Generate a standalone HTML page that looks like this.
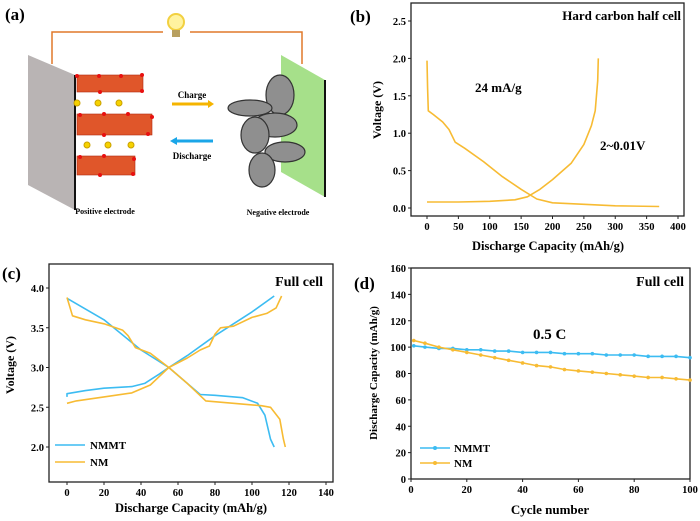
<!DOCTYPE html>
<html><head><meta charset="utf-8"><style>
html,body{margin:0;padding:0;background:#fff;}
svg{display:block;font-family:"Liberation Serif",serif;font-weight:bold;}
</style></head><body>
<svg id="fig" width="700" height="521" viewBox="0 0 700 521">
<!-- Panel a -->
<g>
<text x="5" y="20" font-size="17">(a)</text>
<polyline points="52,64 52,32 163,32" fill="none" stroke="#e0782a" stroke-width="1.5"/>
<polyline points="190,32 302,32 302,64" fill="none" stroke="#e0782a" stroke-width="1.5"/>
<g>
<circle cx="176" cy="22" r="8" fill="#fff3a0" stroke="#f2d040" stroke-width="2"/>
<rect x="172" y="30" width="8" height="7" fill="#b8a060"/>
</g>
<polygon points="28,55 75,75 75,210 28,185" fill="#b9b4b4"/>
<line x1="75" y1="75" x2="75" y2="210" stroke="#111" stroke-width="2"/>
<g fill="#e0562a" stroke="#b02a10" stroke-width="0.6">
<rect x="77" y="75" width="66" height="17"/>
<rect x="77" y="114" width="75" height="21"/>
<rect x="77" y="156" width="58" height="19"/>
</g>
<g fill="#e81010">
<circle cx="77" cy="76" r="2"/><circle cx="99" cy="76" r="2"/><circle cx="121" cy="76" r="2"/><circle cx="142" cy="75" r="2"/><circle cx="142" cy="91" r="2"/><circle cx="100" cy="92" r="2"/>
<circle cx="80" cy="115" r="2"/><circle cx="104" cy="114" r="2"/><circle cx="128" cy="114" r="2"/><circle cx="152" cy="117" r="2"/><circle cx="148" cy="134" r="2"/><circle cx="104" cy="135" r="2"/>
<circle cx="80" cy="157" r="2"/><circle cx="104" cy="156" r="2"/><circle cx="134" cy="159" r="2"/><circle cx="133" cy="174" r="2"/><circle cx="100" cy="175" r="2"/>
</g>
<g fill="#f6d200" stroke="#c9a000" stroke-width="1">
<circle cx="77" cy="103" r="3"/><circle cx="98" cy="103" r="3"/><circle cx="119" cy="103" r="3"/>
<circle cx="87" cy="145" r="3"/><circle cx="108" cy="145" r="3"/><circle cx="131" cy="145" r="3"/>
</g>
<text x="192" y="98" font-size="9" text-anchor="middle">Charge</text>
<line x1="172" y1="104" x2="210" y2="104" stroke="#f5b400" stroke-width="3"/>
<polygon points="208,100 214,104 208,108" fill="#f5b400"/>
<line x1="176" y1="141" x2="213" y2="141" stroke="#1aa6e8" stroke-width="3"/>
<polygon points="177,137 170,141 177,145" fill="#1aa6e8"/>
<text x="192" y="159" font-size="9" text-anchor="middle">Discharge</text>
<polygon points="281,55 325,80 325,197 281,172" fill="#a6e08a"/>
<line x1="325" y1="80" x2="325" y2="197" stroke="#111" stroke-width="2"/>
<g fill="#8f8f8f" stroke="#333" stroke-width="1.2">
<ellipse cx="280" cy="95" rx="14" ry="20"/>
<ellipse cx="250" cy="108" rx="22" ry="8"/>
<ellipse cx="275" cy="125" rx="22" ry="12"/>
<ellipse cx="255" cy="135" rx="14" ry="18"/>
<ellipse cx="285" cy="152" rx="20" ry="10"/>
<ellipse cx="262" cy="170" rx="13" ry="17"/>
</g>
<text x="105" y="214" font-size="8" text-anchor="middle">Positive electrode</text>
<text x="278" y="215" font-size="8" text-anchor="middle">Negative electrode</text>
</g>
<g id="charts"></g>
</svg>
<script>
// Panel b data
const bDisX=[0,1,2,10,25,35,45,60,90,120,150,175,200,250,300,370];
const bDisY=[1.97,1.6,1.3,1.25,1.15,1.05,0.88,0.8,0.62,0.42,0.25,0.12,0.07,0.05,0.03,0.02];
const bChX=[0,50,100,140,160,180,200,230,250,262,268,272,273];
const bChY=[0.08,0.08,0.09,0.11,0.15,0.25,0.38,0.6,0.85,1.1,1.3,1.7,2.0];
const bXTicks=[0,50,100,150,200,250,300,350,400];
const bYTicks=[0.0,0.5,1.0,1.5,2.0,2.5];
// Panel c data
const cNmmtChX=[0,0,10,20,35,42,50,55,65,80,100,112];
const cNmmtChY=[2.63,2.67,2.71,2.74,2.76,2.8,2.92,3.0,3.15,3.4,3.7,3.9];
const cNmmtDisX=[0,20,40,55,72,80,95,103,107,110,112];
const cNmmtDisY=[3.87,3.6,3.22,3.0,2.66,2.65,2.62,2.55,2.4,2.1,2.0];
const cNmChX=[0,5,20,35,45,55,65,72,77,80,83,90,100,108,113,116];
const cNmChY=[2.55,2.58,2.63,2.68,2.78,3.0,3.12,3.22,3.27,3.42,3.5,3.52,3.63,3.68,3.75,3.9];
const cNmDisX=[0,3,10,20,30,33,37,45,55,65,75,90,105,110,115,117,118];
const cNmDisY=[3.88,3.65,3.6,3.55,3.47,3.4,3.25,3.18,3.0,2.8,2.58,2.55,2.52,2.5,2.35,2.1,2.0];
const cXTicks=[0,20,40,60,80,100,120,140];
const cYTicks=[2.0,2.5,3.0,3.5,4.0];
// Panel d data
const dCycles=[1,5,10,15,20,25,30,35,40,45,50,55,60,65,70,75,80,85,90,95,100];
const dNmmt=[101,100,99,99,98,98,97,97,96,96,96,95,95,95,94,94,94,93,93,93,92];
const dNm=[105,103,100,98,96,94,92,90,88,86,85,83,82,81,80,79,78,77,77,76,75];
const dXTicks=[0,20,40,60,80,100];
const dYTicks=[0,20,40,60,80,100,120,140,160];

const NS="http://www.w3.org/2000/svg";
const root=document.getElementById('charts');
function el(tag,attrs,parent,text){const e=document.createElementNS(NS,tag);for(const k in attrs)e.setAttribute(k,attrs[k]);if(text!==undefined)e.textContent=text;(parent||root).appendChild(e);return e;}
function lin(d0,d1,r0,r1){return v=>r0+(v-d0)*(r1-r0)/(d1-d0);}
function pathD(xs,ys,sx,sy){return xs.map((x,i)=>(i?'L':'M')+sx(x).toFixed(1)+','+sy(ys[i]).toFixed(1)).join(' ');}
const BLUE="#3cbcf2", ORANGE="#f7bb33";

function frame(g,L,T,R,B,xt,yt,sx,sy,fmtY,fmtX){
  const r=el('rect',{x:L,y:T,width:R-L,height:B-T,fill:'none',stroke:'#222','stroke-width':1.3},g);
  
  
  xt.forEach(v=>{const x=sx(v);
    const t=el('line',{x1:x,y1:B,x2:x,y2:B+3,stroke:'#222'},g);
    
    
    const l=el('text',{x:x,y:B+14,'font-size':10.5,'text-anchor':'middle'},g,fmtX(v));
    
    
  });
  yt.forEach(v=>{const y=sy(v);
    const t=el('line',{x1:L-3,y1:y,x2:L,y2:y,stroke:'#222'},g);
    
    
    const l=el('text',{x:L-5,y:y+4,'font-size':10.5,'text-anchor':'end'},g,fmtY(v));
    
    
  });
}
function line(g,xs,ys,sx,sy,color,name){
  const p=el('path',{d:pathD(xs,ys,sx,sy),fill:'none',stroke:color,'stroke-width':1.6,'stroke-linejoin':'round'},g);
  
  
}
// ---- Panel b
{
  const g=el('g',{});
  
  
  const sx=lin(0,400,427,678), sy=lin(0,2.5,208,21);
  frame(g,411,3,684,216,bXTicks,bYTicks,sx,sy,v=>v.toFixed(1),v=>String(v));
  line(g,bDisX,bDisY,sx,sy,ORANGE,'discharge-curve');
  line(g,bChX,bChY,sx,sy,ORANGE,'charge-curve');
  const a=el('text',{x:350,y:22,'font-size':17},g,'(b)');
  const t=el('text',{x:681,y:20,'font-size':13,'text-anchor':'end'},g,'Hard carbon half cell');
  const r=el('text',{x:475,y:92,'font-size':13},g,'24 mA/g');
  const v=el('text',{x:600,y:150,'font-size':13},g,'2~0.01V');
  const xt=el('text',{x:548,y:250,'font-size':12.5,'text-anchor':'middle'},g,'Discharge Capacity (mAh/g)');
  const yt=el('text',{x:0,y:0,'font-size':12,'text-anchor':'middle',transform:'translate(381,110) rotate(-90)'},g,'Voltage (V)');
}
// ---- Panel c
{
  const g=el('g',{});
  
  
  const sx=lin(0,140,67,326), sy=lin(2,4,447,288);
  frame(g,49,264,333,482,cXTicks,cYTicks,sx,sy,v=>v.toFixed(1),v=>String(v));
  line(g,cNmmtChX,cNmmtChY,sx,sy,BLUE,'nmmt-charge-curve');
  line(g,cNmmtDisX,cNmmtDisY,sx,sy,BLUE,'nmmt-discharge-curve');
  line(g,cNmChX,cNmChY,sx,sy,ORANGE,'nm-charge-curve');
  line(g,cNmDisX,cNmDisY,sx,sy,ORANGE,'nm-discharge-curve');
  const a=el('text',{x:2,y:279,'font-size':17},g,'(c)');
  const t=el('text',{x:323,y:286,'font-size':14,'text-anchor':'end'},g,'Full cell');
  const l1=el('line',{x1:55,y1:445,x2:85,y2:445,stroke:BLUE,'stroke-width':1.6},g);
  const t1=el('text',{x:90,y:449,'font-size':11},g,'NMMT');
  const l2=el('line',{x1:55,y1:462,x2:85,y2:462,stroke:ORANGE,'stroke-width':1.6},g);
  const t2=el('text',{x:90,y:466,'font-size':11},g,'NM');
  const xt=el('text',{x:191,y:512,'font-size':12.5,'text-anchor':'middle'},g,'Discharge Capacity (mAh/g)');
  const yt=el('text',{x:0,y:0,'font-size':12,'text-anchor':'middle',transform:'translate(14,365) rotate(-90)'},g,'Voltage (V)');
}
// ---- Panel d
{
  const g=el('g',{});
  
  
  const sx=lin(0,100,411,690), sy=lin(0,160,479,268);
  frame(g,411,268,690,479,dXTicks,dYTicks,sx,sy,v=>String(v),v=>String(v));
  [[dNmmt,BLUE,'nmmt-series'],[dNm,ORANGE,'nm-series']].forEach(([vals,c,n])=>{
    line(g,dCycles,vals,sx,sy,c,n+'-line');
    dCycles.forEach((x,i)=>{
      const m=el('circle',{cx:sx(x),cy:sy(vals[i]),r:1.8,fill:c},g);
      
      
    });
  });
  const a=el('text',{x:354,y:289,'font-size':17},g,'(d)');
  const t=el('text',{x:684,y:286,'font-size':14,'text-anchor':'end'},g,'Full cell');
  const r=el('text',{x:533,y:339,'font-size':15},g,'0.5 C');
  const l1=el('line',{x1:420,y1:448,x2:450,y2:448,stroke:BLUE,'stroke-width':1.6},g);
  el('circle',{cx:435,cy:448,r:2,fill:BLUE},g);
  const t1=el('text',{x:454,y:452,'font-size':11},g,'NMMT');
  const l2=el('line',{x1:420,y1:463,x2:450,y2:463,stroke:ORANGE,'stroke-width':1.6},g);
  el('circle',{cx:435,cy:463,r:2,fill:ORANGE},g);
  const t2=el('text',{x:454,y:467,'font-size':11},g,'NM');
  const xt=el('text',{x:550,y:514,'font-size':13,'text-anchor':'middle'},g,'Cycle number');
  const yt=el('text',{x:0,y:0,'font-size':11,'text-anchor':'middle',transform:'translate(377,373) rotate(-90)'},g,'Discharge Capacity (mAh/g)');
}
</script>
</body></html>
